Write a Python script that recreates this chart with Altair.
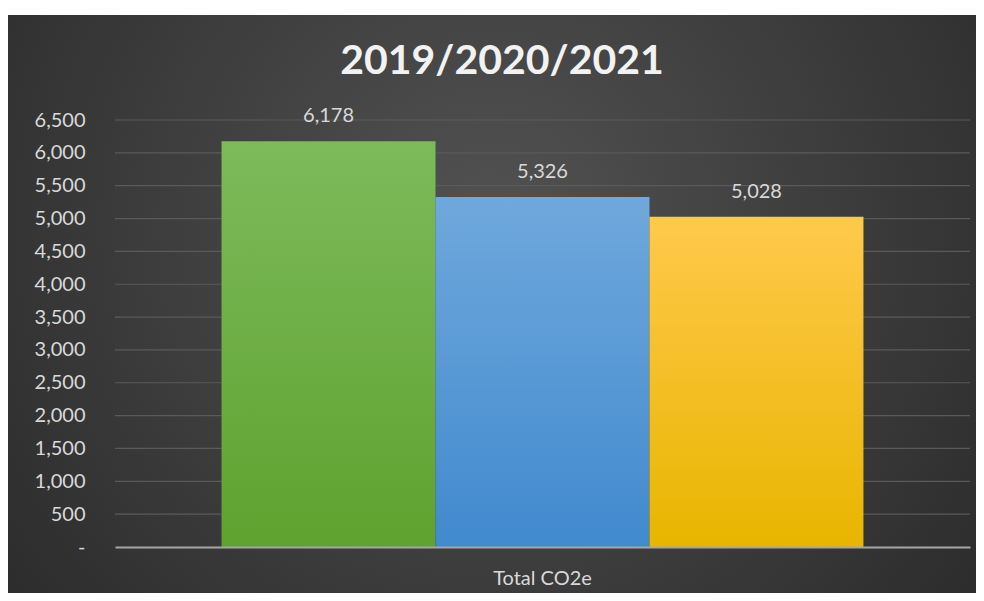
import altair as alt
import pandas as pd

categories = ["Total CO2e"]
years = ["2019", "2020", "2021"]
values = [6178, 5326, 5028]
y_ticks = list(range(0, 6501, 500))
grid_values = list(range(500, 6501, 500))
title_text = ["2019/2020/2021"]

top_colors = ["#7dba5b", "#6fa8dc", "#ffc94c"]
bottom_colors = ["#5fa22f", "#418ace", "#e8b500"]

df = pd.DataFrame({"category": categories * 3, "year": years, "value": values})
grid_df = pd.DataFrame({"value": grid_values})
bg_df = pd.DataFrame({"a": [0]})
title_df = pd.DataFrame({"t": title_text})

W, H = 855, 427
PAD = {"left": 107, "top": 112, "right": 6, "bottom": 46}
FONT = "Lato"
LABEL = "#d9d9d9"

y_scale = alt.Scale(domain=[0, 6500], nice=False, zero=True)

x_enc = alt.X(
    "category:N",
    scale=alt.Scale(paddingOuter=0.166, paddingInner=0),
    axis=alt.Axis(
        title=None, labelAngle=0, ticks=False, domain=True,
        domainColor="#a6a6a6", domainWidth=2, labelColor=LABEL,
        labelFont=FONT, labelFontSize=20, labelPadding=21, grid=False, zindex=1,
    ),
)
xo_enc = alt.XOffset("year:N", scale=alt.Scale(domain=years, paddingInner=0, paddingOuter=0))
y_enc = alt.Y(
    "value:Q",
    scale=y_scale,
    axis=alt.Axis(
        title=None, values=y_ticks, grid=False, ticks=False, domain=False,
        labelExpr="datum.value == 0 ? '-\u00a0\u00a0\u00a0\u00a0\u00a0' : format(datum.value, ',')",
        labelColor=LABEL, labelFont=FONT, labelFontSize=20, labelPadding=30, zindex=1,
    ),
)

background = alt.Chart(bg_df).mark_rect(
    color=alt.Gradient(
        gradient="radial",
        stops=[alt.GradientStop(offset=0, color="#525252"),
               alt.GradientStop(offset=1, color="#232323")],
        x1=0.5, y1=0.42, r1=0, x2=0.5, y2=0.42, r2=0.78,
    )
).encode(
    x=alt.value(-PAD["left"]), x2=alt.value(W + PAD["right"]),
    y=alt.value(-105), y2=alt.value(H + PAD["bottom"]),
)

grid = alt.Chart(grid_df).mark_rule(color="#5a5a5a", strokeWidth=1.2).encode(
    y=y_enc,
    x=alt.value(0), x2=alt.value(W),
)

layers = [background, grid]
for yr, top, bot in zip(years, top_colors, bottom_colors):
    layers.append(
        alt.Chart(df).transform_filter(alt.datum.year == yr).mark_bar(
            color=alt.Gradient(
                gradient="linear",
                stops=[alt.GradientStop(offset=0, color=top),
                       alt.GradientStop(offset=1, color=bot)],
                x1=0, x2=0, y1=0, y2=1,
            ),
            strokeWidth=0,
        ).encode(x=x_enc, xOffset=xo_enc, y=y_enc)
    )

labels = alt.Chart(df).mark_text(
    dy=-25, font=FONT, fontSize=20, color=LABEL
).encode(
    x=x_enc, xOffset=xo_enc, y=y_enc,
    text=alt.Text("value:Q", format=","),
)
layers.append(labels)

title_main = alt.Chart(title_df).mark_text(
    font=FONT, fontSize=41, fontWeight="bold", color="#f2f2f2",
    baseline="middle", align="center",
).encode(x=alt.value(387), y=alt.value(-58), text="t:N")
layers.append(title_main)

chart = alt.layer(*layers).properties(
    width=W, height=H,
    background="white",
    padding=PAD,
    autosize=alt.AutoSizeParams(type="none"),
).configure_view(stroke=None)

chart.save("out.html", embed_options={"renderer": "svg", "actions": False})
